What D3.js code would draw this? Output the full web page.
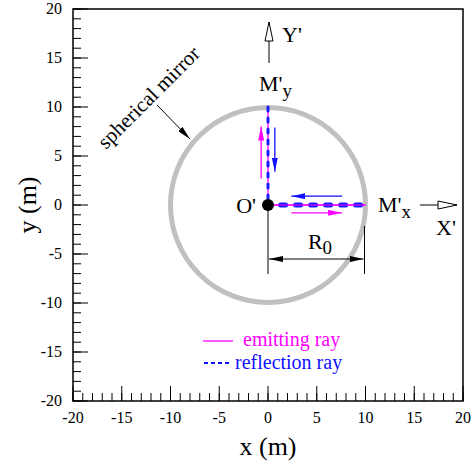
<!DOCTYPE html>
<html>
<head>
<meta charset="utf-8">
<script src="https://cdn.jsdelivr.net/npm/d3@7"></script>
</head>
<body style="margin:0">
<script>
// axis setup
var xDomain = [-20, 20];
var yDomain = [-20, 20];
var majorTicks = [-20, -15, -10, -5, 0, 5, 10, 15, 20];
var minorTicks = d3.range(-20, 21, 1);

// mirror and rays (m)
var mirrorRadius = 10;
var center = [0, 0];
var emitX = [[0, 0], [10, 0]];
var emitY = [[0, 0], [0, 10]];
var reflX = [[9.5, 0], [0.4, 0]];
var reflY = [[0, 10], [0, 0.3]];
// direction arrows [from, to]
var emitArrows = [[[2.4, -0.8], [7.6, -0.8]], [[-0.7, 2.7], [-0.7, 8.0]]];
var reflArrows = [[[7.6, 0.9], [2.4, 0.9]], [[0.7, 7.9], [0.7, 3.4]]];

var legendLabels = ["emitting ray", "reflection ray"];

var FONT = "'Liberation Serif'";
var W = 472, H = 463;
var svg = d3.select("body").append("svg")
	.attr("width", W)
	.attr("height", H);

function label(parent, size) {
	return parent.append("text")
		.style("font-family", FONT)
		.style("font-size", size + "px");
}

var x = d3.scaleLinear().domain(xDomain).range([73, 463]);
var y = d3.scaleLinear().domain(yDomain).range([401, 9]);

var defs = svg.append("defs");
function headMarker(id, color) {
	defs.append("marker")
		.attr("id", id)
		.attr("markerUnits", "userSpaceOnUse")
		.attr("viewBox", "0 0 14 6")
		.attr("refX", 14).attr("refY", 3)
		.attr("markerWidth", 14).attr("markerHeight", 6)
		.attr("orient", "auto")
		.append("path")
		.attr("d", "M0,0 L14,3 L0,6 Z")
		.attr("fill", color);
}
headMarker("headM", "#ff00ff");
headMarker("headB", "#1010ff");
headMarker("headK", "#000");
defs.append("marker")
	.attr("id", "headOpen")
	.attr("markerUnits", "userSpaceOnUse")
	.attr("viewBox", "-1 -1 21 10")
	.attr("refX", 19).attr("refY", 4)
	.attr("markerWidth", 21).attr("markerHeight", 10)
	.attr("orient", "auto")
	.append("path")
	.attr("d", "M0,0 L19,4 L0,8 Z")
	.attr("fill", "#fff")
	.attr("stroke", "#000")
	.attr("stroke-width", 1);
defs.append("marker")
	.attr("id", "headStart")
	.attr("markerUnits", "userSpaceOnUse")
	.attr("viewBox", "0 0 14 6")
	.attr("refX", 0).attr("refY", 3)
	.attr("markerWidth", 14).attr("markerHeight", 6)
	.attr("orient", "auto")
	.append("path")
	.attr("d", "M14,0 L0,3 L14,6 Z")
	.attr("fill", "#000");

// ticks (inside)
var axes = svg.append("g");
function ticks(list, len) {
	list.forEach(function(v) {
		axes.append("line").attr("x1", x(v)).attr("x2", x(v)).attr("y1", y(-20)).attr("y2", y(-20) - len);
		axes.append("line").attr("y1", y(v)).attr("y2", y(v)).attr("x1", x(-20)).attr("x2", x(-20) + len);
	});
}
ticks(minorTicks, 8);
ticks(majorTicks, 15);
axes.selectAll("line").attr("stroke", "#000").attr("stroke-width", 1);

svg.append("rect")
	.attr("x", x(-20)).attr("y", y(20))
	.attr("width", x(20) - x(-20)).attr("height", y(-20) - y(20))
	.attr("fill", "none").attr("stroke", "#000").attr("stroke-width", 1.5);

majorTicks.forEach(function(d) {
	label(svg, 16).attr("x", x(d)).attr("y", 423)
		.attr("text-anchor", "middle").text(d);
	label(svg, 16).attr("x", 62).attr("y", y(d) + 5)
		.attr("text-anchor", "end").text(d);
});

label(svg, 26).attr("x", x(0)).attr("y", 455)
	.attr("text-anchor", "middle").text("x (m)");
label(svg, 26).attr("transform", "translate(36," + y(0) + ") rotate(-90)")
	.attr("text-anchor", "middle").text("y (m)");

// mirror
svg.append("circle")
	.attr("cx", x(center[0])).attr("cy", y(center[1]))
	.attr("r", x(mirrorRadius) - x(0))
	.attr("fill", "none")
	.attr("stroke", "#c0c0c0")
	.attr("stroke-width", 5);

var line = d3.line().x(function(d) { return x(d[0]); }).y(function(d) { return y(d[1]); });

// dimension lines
svg.append("line").attr("x1", x(0)).attr("x2", x(0)).attr("y1", y(0)).attr("y2", 274).attr("stroke", "#000");
svg.append("line").attr("x1", x(mirrorRadius) - 1).attr("x2", x(mirrorRadius) - 1).attr("y1", 226).attr("y2", 274).attr("stroke", "#000");
svg.append("line")
	.attr("x1", x(0) + 1).attr("x2", x(mirrorRadius) - 2)
	.attr("y1", 259).attr("y2", 259)
	.attr("stroke", "#000")
	.attr("marker-start", "url(#headStart)")
	.attr("marker-end", "url(#headK)");
var r0 = label(svg, 22).attr("x", 320).attr("y", 249).attr("text-anchor", "middle");
r0.append("tspan").text("R");
r0.append("tspan").attr("dy", 5).style("font-size", "19px").text("0");

// rays
[emitX, emitY].forEach(function(p) {
	svg.append("path").attr("d", line(p))
		.attr("fill", "none").attr("stroke", "#ff00ff").attr("stroke-width", 1.3);
});
svg.append("path").attr("d", line(reflX))
	.attr("fill", "none").attr("stroke", "#1a1aff").attr("stroke-width", 5)
	.attr("stroke-linecap", "round").attr("stroke-dasharray", "5,10");
svg.append("path").attr("d", line(reflY))
	.attr("fill", "none").attr("stroke", "#1a1aff").attr("stroke-width", 3)
	.attr("stroke-linecap", "round").attr("stroke-dasharray", "4,7");
svg.append("path").attr("d", line(emitX))
	.attr("fill", "none").attr("stroke", "#ff00ff").attr("stroke-width", 1);

emitArrows.forEach(function(a) {
	svg.append("path").attr("d", line(a))
		.attr("stroke", "#ff00ff").attr("stroke-width", 1.3)
		.attr("marker-end", "url(#headM)");
});
reflArrows.forEach(function(a) {
	svg.append("path").attr("d", line(a))
		.attr("stroke", "#1010ff").attr("stroke-width", 1.3)
		.attr("marker-end", "url(#headB)");
});

// center point
svg.append("circle")
	.attr("cx", x(0)).attr("cy", y(0)).attr("r", 6)
	.attr("fill", "#000");

// labels
label(svg, 22).attr("x", 256).attr("y", 213).attr("text-anchor", "end").text("O'");

var my = label(svg, 22).attr("x", 259).attr("y", 91);
my.append("tspan").text("M'");
my.append("tspan").attr("dy", 6).style("font-size", "19px").text("y");

var mx = label(svg, 22).attr("x", 378).attr("y", 212);
mx.append("tspan").text("M'");
mx.append("tspan").attr("dy", 6).style("font-size", "19px").text("x");

// axis arrows for X', Y'
svg.append("line").attr("x1", x(0) + 1).attr("x2", x(0) + 1).attr("y1", 63).attr("y2", 22)
	.attr("stroke", "#000").attr("marker-end", "url(#headOpen)");
label(svg, 22).attr("x", 282).attr("y", 42).text("Y'");

svg.append("line").attr("x1", 420).attr("x2", 457).attr("y1", 205).attr("y2", 205)
	.attr("stroke", "#000").attr("marker-end", "url(#headOpen)");
label(svg, 22).attr("x", 436).attr("y", 235).text("X'");

// spherical mirror annotation
label(svg, 21).attr("transform", "translate(106,150) rotate(-45)")
	.text("spherical mirror");
svg.append("line").attr("x1", 157).attr("y1", 105).attr("x2", 190).attr("y2", 139)
	.attr("stroke", "#000").attr("marker-end", "url(#headK)");

// legend
svg.append("line").attr("x1", 203).attr("x2", 233).attr("y1", 341).attr("y2", 341)
	.attr("stroke", "#ff00ff").attr("stroke-width", 1.3);
label(svg, 20).attr("x", 243).attr("y", 346)
	.attr("fill", "#ff00ff").text(legendLabels[0]);
svg.append("line").attr("x1", 204).attr("x2", 229).attr("y1", 363).attr("y2", 363)
	.attr("stroke", "#1010ff").attr("stroke-width", 2).attr("stroke-dasharray", "4,3");
label(svg, 20).attr("x", 235).attr("y", 369)
	.attr("fill", "#1010ff").text(legendLabels[1]);
</script>
</body>
</html>
